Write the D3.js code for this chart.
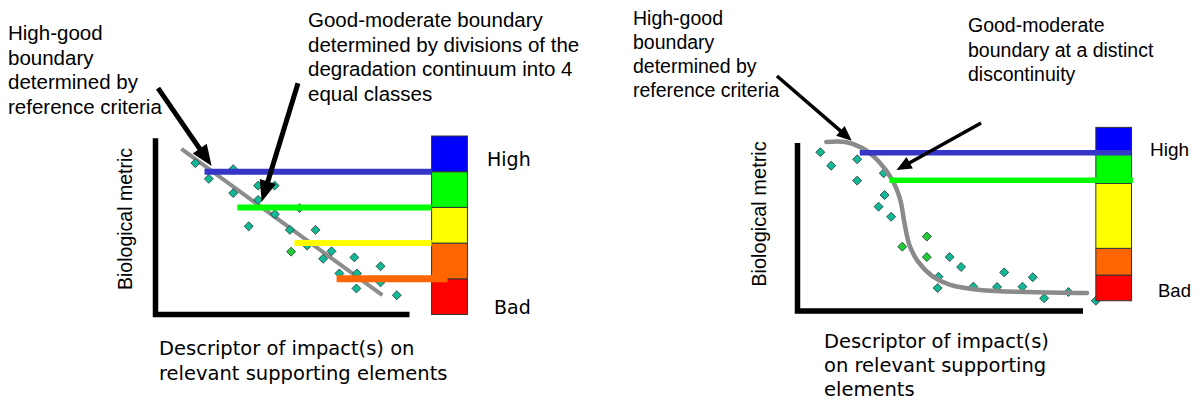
<!DOCTYPE html>
<html>
<head>
<meta charset="utf-8">
<script src="https://cdn.jsdelivr.net/npm/d3@7"></script>
<style>
  html, body { margin: 0; padding: 0; background: #fff; }
  svg { display: block; }
  .arial { font-family: "Liberation Sans", Arial, sans-serif; fill: #000; }
  .comic { font-family: "Comic Sans MS", "DejaVu Sans", sans-serif; fill: #000; }
</style>
</head>
<body>
<svg id="chart" width="1198" height="401"></svg>
<script>
// ---- Left panel data (x: impact 0-10, y: metric 0-5) ----
const leftX = [1.57, 2.10, 3.06, 3.06, 4.04, 4.69, 4.04, 3.67, 4.70, 5.67, 5.29, 6.30,
               5.97, 5.34, 6.93, 6.60, 7.83, 8.86, 7.24, 7.93, 8.86, 7.91, 9.50];
const leftY = [4.24, 3.80, 4.07, 3.40, 3.61, 3.61, 3.21, 2.47, 2.81, 2.98, 2.37, 2.37,
               1.93, 1.76, 1.77, 1.56, 1.60, 1.35, 1.15, 1.15, 0.90, 0.73, 0.54];
const leftGreen = [13];                       // index of the brighter green point
const leftFit = [[1.02, 4.64], [8.93, 0.54]];  // straight regression line
const leftClassEdges = [0, 1, 2, 3, 4, 5];     // 4 equal classes + bad
const leftBoundY = [4, 3, 2, 1];
const leftBoundStart = [1.93, 3.22, 5.47, 7.13];
const leftBoundEnd = [10.87, 10.87, 10.87, 11.5];

// ---- Right panel data (x: impact 0-10, y: metric 0-10) ----
const rightX = [0.80, 1.18, 2.09, 2.09, 3.02, 3.05, 2.84, 3.28, 3.67, 4.53, 4.53, 5.33,
                5.73, 4.94, 4.91, 6.16, 6.99, 7.24, 7.88, 8.24, 8.64, 9.49, 10.45];
const rightY = [9.45, 8.65, 9.03, 7.76, 8.20, 6.90, 6.21, 5.61, 3.83, 4.43, 3.21, 3.21,
                2.62, 2.04, 1.37, 1.45, 1.43, 2.30, 1.45, 2.01, 0.76, 1.13, 0.61];
const rightGreen = [8, 9, 10];
const rightCurve = [[1.01, 10.06], [1.68, 10.06], [2.27, 9.70], [2.83, 8.93], [3.32, 7.80],
                    [3.60, 6.61], [3.74, 5.30], [3.92, 3.93], [4.23, 2.92], [4.72, 2.08],
                    [5.35, 1.55], [6.40, 1.25], [8.15, 1.13], [10.14, 1.07]];
const rightClassEdges = [0.61, 2.14, 3.73, 7.60, 9.33, 10.93];
const rightBoundY = [9.42, 7.78];
const rightBoundStart = [2.18, 3.22];
const rightBoundEnd = [11.68, 11.75];

// class colours, bad -> high
const classColors = ["#ff0000", "#ff6600", "#ffff00", "#00ff00", "#0000ff"];
const boundColors = ["#3535c8", "#00ff00", "#ffff00", "#ff6600"];

// text
const leftNote1 = ["High-good", "boundary", "determined by", "reference criteria"];
const leftNote2 = ["Good-moderate boundary", "determined by divisions of the",
                   "degradation continuum into 4", "equal classes"];
const rightNote1 = ["High-good", "boundary", "determined by", "reference criteria"];
const rightNote2 = ["Good-moderate", "boundary at a distinct", "discontinuity"];
const leftXLabel = ["Descriptor of impact(s) on", "relevant supporting elements"];
const rightXLabel = ["Descriptor of impact(s)", "on relevant supporting", "elements"];
const yLabel = "Biological metric";

const svg = d3.select("#chart");

function arrow(g, x1, y1, x2, y2, w, hl, hw) {
  const dx = x2 - x1, dy = y2 - y1, L = Math.hypot(dx, dy);
  const ux = dx / L, uy = dy / L;
  const bx = x2 - ux * hl, by = y2 - uy * hl;
  g.append("line")
    .attr("x1", x1).attr("y1", y1)
    .attr("x2", bx + ux * 2).attr("y2", by + uy * 2)
    .attr("stroke", "#000").attr("stroke-width", w);
  g.append("path")
    .attr("d", `M${x2},${y2}L${bx - uy * hw / 2},${by + ux * hw / 2}L${bx + uy * hw / 2},${by - ux * hw / 2}Z`)
    .attr("fill", "#000");
}

function textLines(g, lines, x, y0, step, size, cls) {
  const t = g.append("text").attr("class", cls).attr("font-size", size);
  lines.forEach((s, i) => {
    t.append("tspan").attr("x", x).attr("y", y0 + i * step).text(s);
  });
}

const diamond = d3.symbol().type(d3.symbolSquare).size(40);

function drawPoints(g, xs, ys, greens, x, y) {
  g.selectAll("path.pt")
    .data(xs.map((v, i) => ({ x: v, y: ys[i], green: greens.includes(i) })))
    .join("path")
    .attr("class", "pt")
    .attr("d", diamond)
    .attr("transform", d => `translate(${x(d.x)},${y(d.y)}) rotate(45)`)
    .attr("fill", d => d.green ? "#22cc33" : "#12b896")
    .attr("stroke", "#1f3f3a")
    .attr("stroke-width", 0.8);
}

// ================= LEFT PANEL =================
{
  const x = d3.scaleLinear().domain([0, 10]).range([155.5, 409.5]);
  const y = d3.scaleLinear().domain([0, 5]).range([314.5, 136]);
  const g = svg.append("g");

  // axes (thick L)
  g.append("path")
    .attr("d", `M${x(0)},${y(4.94)}V${y(0)}H${x(10)}`)
    .attr("fill", "none").attr("stroke", "#000").attr("stroke-width", 5.5);

  // regression line
  g.append("path")
    .attr("d", d3.line().x(d => x(d[0])).y(d => y(d[1]))(leftFit))
    .attr("stroke", "#8c8c8c").attr("stroke-width", 4).attr("fill", "none");

  drawPoints(g, leftX, leftY, leftGreen, x, y);

  // colour bar
  g.selectAll("rect.cls")
    .data(classColors)
    .join("rect")
    .attr("class", "cls")
    .attr("x", x(10.87)).attr("width", x(12.28) - x(10.87))
    .attr("y", (c, i) => y(leftClassEdges[i + 1]))
    .attr("height", (c, i) => y(leftClassEdges[i]) - y(leftClassEdges[i + 1]))
    .attr("fill", c => c).attr("stroke", "#333").attr("stroke-width", 1);

  // boundary lines
  leftBoundY.forEach((b, i) => {
    g.append("line")
      .attr("x1", x(leftBoundStart[i])).attr("x2", x(leftBoundEnd[i]))
      .attr("y1", y(b)).attr("y2", y(b))
      .attr("stroke", boundColors[i]).attr("stroke-width", i === 3 ? 7 : 6);
  });

  // arrows
  arrow(g, x(0.10), y(6.34), x(2.21), y(4.16), 5, 21, 17);
  arrow(g, x(5.61), y(6.48), x(4.18), y(3.16), 5, 21, 17);

  // texts
  textLines(g, leftNote1, 8, 40, 24.5, 20.5, "arial");
  textLines(g, leftNote2, 308, 27, 24.5, 20.5, "arial");
  g.append("text").attr("class", "comic").attr("font-size", 19)
    .attr("x", 487).attr("y", 166).text("High");
  g.append("text").attr("class", "comic").attr("font-size", 19)
    .attr("x", 494).attr("y", 314).text("Bad");
  textLines(g, leftXLabel, 159, 355, 25, 19.5, "comic");
  g.append("text").attr("class", "arial").attr("font-size", 19.5)
    .attr("text-anchor", "middle")
    .attr("transform", "translate(132,219) rotate(-90)")
    .text(yLabel);
}

// ================= RIGHT PANEL =================
{
  const x = d3.scaleLinear().domain([0, 10]).range([797.5, 1083]);
  const y = d3.scaleLinear().domain([0, 10]).range([311, 143]);
  const g = svg.append("g");

  g.append("path")
    .attr("d", `M${x(0)},${y(10)}V${y(0)}H${x(10)}`)
    .attr("fill", "none").attr("stroke", "#000").attr("stroke-width", 5.5);

  drawPoints(g, rightX, rightY, rightGreen, x, y);

  g.append("path")
    .attr("d", d3.line().curve(d3.curveCatmullRom.alpha(0.5))
      .x(d => x(d[0])).y(d => y(d[1]))(rightCurve))
    .attr("stroke", "#8a8a8a").attr("stroke-width", 4.5).attr("fill", "none")
    .attr("stroke-linecap", "round");

  g.selectAll("rect.cls")
    .data(classColors)
    .join("rect")
    .attr("class", "cls")
    .attr("x", x(10.45)).attr("width", x(11.70) - x(10.45))
    .attr("y", (c, i) => y(rightClassEdges[i + 1]))
    .attr("height", (c, i) => y(rightClassEdges[i]) - y(rightClassEdges[i + 1]))
    .attr("fill", c => c).attr("stroke", "#333").attr("stroke-width", 1);

  rightBoundY.forEach((b, i) => {
    g.append("line")
      .attr("x1", x(rightBoundStart[i])).attr("x2", x(rightBoundEnd[i]))
      .attr("y1", y(b)).attr("y2", y(b))
      .attr("stroke", boundColors[i]).attr("stroke-width", 5.5);
  });

  arrow(g, x(-0.72), y(13.99), x(1.90), y(10.14), 3.5, 15, 13);
  arrow(g, x(6.43), y(11.19), x(3.47), y(8.39), 3.5, 15, 13);

  textLines(g, rightNote1, 633, 25, 24, 19.5, "arial");
  textLines(g, rightNote2, 968, 32, 24.5, 19.5, "arial");
  g.append("text").attr("class", "arial").attr("font-size", 19)
    .attr("x", 1150).attr("y", 156).text("High");
  g.append("text").attr("class", "arial").attr("font-size", 18.5)
    .attr("x", 1158).attr("y", 297).text("Bad");
  textLines(g, rightXLabel, 824, 348, 24, 19.5, "comic");
  g.append("text").attr("class", "arial").attr("font-size", 20)
    .attr("text-anchor", "middle")
    .attr("transform", "translate(766,214) rotate(-90)")
    .text(yLabel);
}
</script>
</body>
</html>
